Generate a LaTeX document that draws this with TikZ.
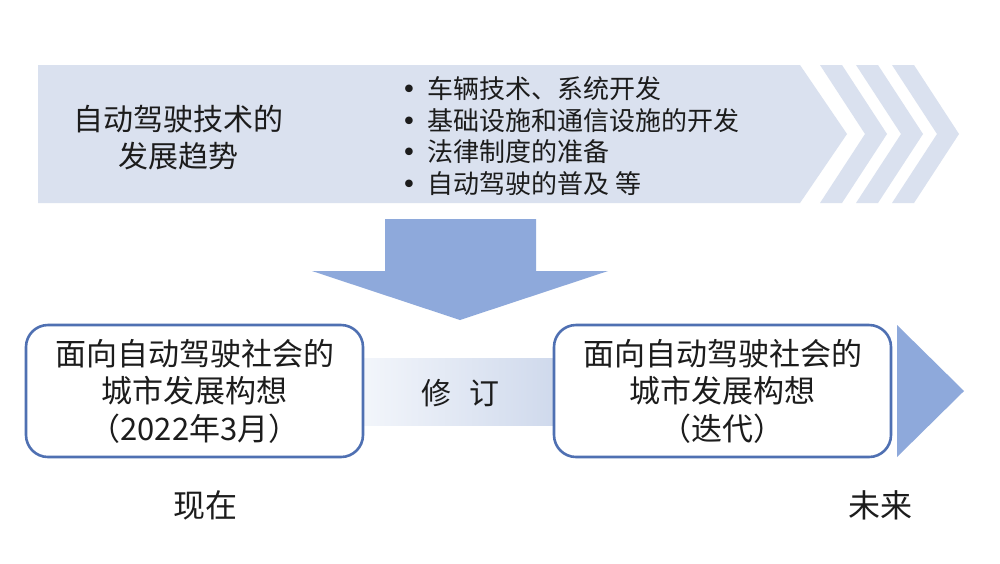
\documentclass[tikz,border=0pt]{standalone}
\usepackage{fontspec}
\newfontfamily\cjk{Noto Sans CJK SC}
\newfontfamily\dv{DejaVu Sans}
\usetikzlibrary{shapes.geometric}
\definecolor{bandfill}{HTML}{DAE1EF}
\definecolor{arrowblue}{HTML}{8EA9DB}
\definecolor{boxline}{HTML}{4F70B2}
\definecolor{txt}{HTML}{1C1C1C}
\definecolor{bandL}{HTML}{F3F6FB}
\definecolor{bandR}{HTML}{CFD9EC}
\newcommand{\bul}{{\dv •}\hspace{5.5pt}}
\tikzset{
  lbl/.style={font=\cjk, text=txt, inner sep=0pt},
  planbox/.style={draw=boxline, line width=1.3pt, rounded corners=11pt, fill=white,
    minimum width=168.5pt, minimum height=66pt, inner sep=0pt},
}
\begin{document}
\begin{tikzpicture}[x=0.5pt, y=-0.5pt]
\useasboundingbox[fill=white] (0,0) rectangle (1000,563);
% top band
\fill[bandfill] (38,65) -- (800,65) -- (847,134) -- (800,203) -- (38,203) -- cycle;
\foreach \a in {820,856,892}{
  \fill[bandfill] (\a,65) -- (\a+22,65) -- (\a+67,134) -- (\a+22,203) -- (\a,203) -- (\a+45,134) -- cycle;
}
\node[lbl, font=\cjk\fontsize{15pt}{18.5pt}\selectfont, align=center] (title) at (178,138) {自动驾驶技术的\\发展趋势};
\node[lbl, font=\cjk\fontsize{13pt}{15.7pt}\selectfont, align=left, anchor=west] (items) at (401,136)
 {\bul 车辆技术、系统开发\\\bul 基础设施和通信设施的开发\\\bul 法律制度的准备\\\bul 自动驾驶的普及 等};
% down arrow
\fill[arrowblue] (385,219) -- (536,219) -- (536,271) -- (608,271) -- (460,320) -- (312,271) -- (385,271) -- cycle;
% middle band
\shade[left color=bandL, right color=bandR] (360,358) rectangle (556,425);
\node[lbl, font=\cjk\fontsize{15pt}{18pt}\selectfont] (rev) at (460,393) {修\hspace{9pt}订};
% boxes
\node[planbox] (now) at (194.5,391) {};
\node[lbl, font=\cjk\fontsize{15.5pt}{18.75pt}\selectfont, align=center] (nowtext) at (now.center) {面向自动驾驶社会的\\城市发展构想\\（2022年3月）};
\node[planbox] (next) at (722.5,391) {};
\node[lbl, font=\cjk\fontsize{15.5pt}{18.75pt}\selectfont, align=center] (nexttext) at (next.center) {面向自动驾驶社会的\\城市发展构想\\（迭代）};
% right arrow
\fill[arrowblue] (897,325) -- (964,391) -- (897,457) -- cycle;
% time labels
\node[lbl, font=\cjk\fontsize{16pt}{19pt}\selectfont] (present) at (205,505) {现在};
\node[lbl, font=\cjk\fontsize{16pt}{19pt}\selectfont] (future) at (880,505) {未来};
\end{tikzpicture}
\end{document}
